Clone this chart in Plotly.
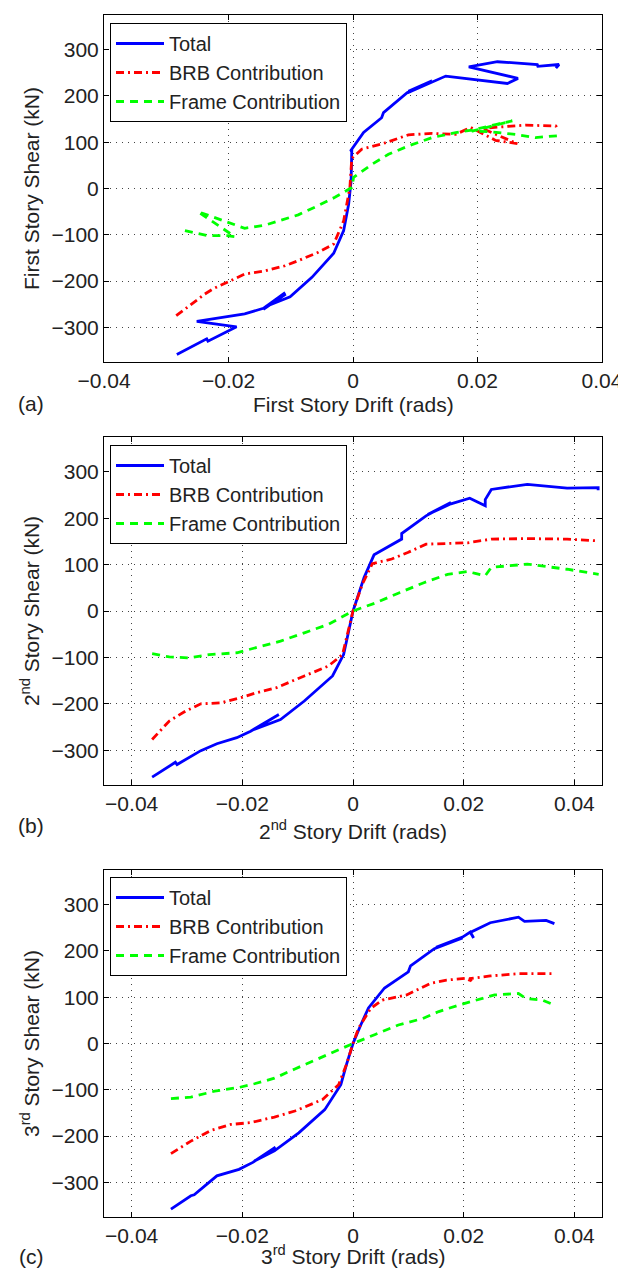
import plotly.graph_objects as go

# ---------------- data ----------------
# Panel (a): first story
A_TOTAL_X = [-0.0283, -0.0235, -0.0233, -0.0187, -0.0251, -0.0174, -0.0144, -0.0109, -0.0144, -0.0108,
             -0.0140, -0.0101, -0.0066, -0.0031, -0.0015, -0.0007, -0.0003, -0.0002, -0.0004, 0.0017,
             0.0046, 0.0049, 0.0087, 0.0127, 0.0089, 0.0126, 0.0088, 0.0149, 0.0248, 0.0265,
             0.0186, 0.0232, 0.0296, 0.0297, 0.0331, 0.0326]
A_TOTAL_Y = [-359, -325, -330, -299, -287, -271, -259, -225, -261, -228,
             -255, -234, -192, -140, -91, -34, 17, 81, 81, 121,
             153, 164, 207, 233, 210, 231, 207, 243, 227, 238,
             263, 274, 268, 264, 268, 260]
A_BRB_X = [-0.0284, -0.0254, -0.0238, -0.0225, -0.0203, -0.0174, -0.0141, -0.0109, -0.0088, -0.0056,
           -0.0031, -0.0015, -0.0005, -0.0002, 0.0014, 0.0046, 0.0089, 0.0127, 0.0165, 0.0189,
           0.0229, 0.0264, 0.0207, 0.0277, 0.0326, 0.0328]
A_BRB_Y = [-275, -243, -228, -217, -203, -185, -178, -167, -156, -138,
           -120, -70, 2, 65, 85, 96, 116, 119, 117, 132,
           104, 97, 130, 137, 135, 127]
A_FRAME_X = [-0.0270, -0.0233, -0.0203, -0.0190, -0.0249, -0.0217, -0.0174, -0.0141, -0.0115, -0.0088,
             -0.0056, -0.0029, -0.0002, 0.0001, 0.0030, 0.0057, 0.0089, 0.0127, 0.0165, 0.0191,
             0.0229, 0.0256, 0.0191, 0.0218, 0.0261, 0.0293, 0.0328]
A_FRAME_Y = [-91, -102, -102, -104, -50, -66, -86, -79, -68, -57,
             -37, -19, 2, 24, 52, 74, 92, 110, 121, 126,
             138, 146, 124, 123, 117, 110, 114]

# Panel (b): second story
B_TOTAL_X = [-0.0363, -0.0321, -0.0318, -0.0275, -0.0246, -0.0210, -0.0185, -0.0134, -0.0180, -0.0131,
             -0.0088, -0.0037, -0.0017, -0.0009, 0.0000, 0.0020, 0.0038, 0.0088, 0.0088, 0.0132,
             0.0177, 0.0135, 0.0177, 0.0211, 0.0239, 0.0239, 0.0250, 0.0315, 0.0387, 0.0443, 0.0443]
B_TOTAL_Y = [-358, -326, -331, -301, -286, -273, -259, -223, -256, -234,
             -194, -140, -94, -50, 0, 72, 121, 155, 167, 205,
             234, 208, 231, 243, 227, 240, 262, 273, 265, 266, 260]
B_BRB_X = [-0.0363, -0.0332, -0.0303, -0.0275, -0.0239, -0.0203, -0.0174, -0.0138, -0.0088, -0.0045,
           -0.0019, -0.0010, 0.0000, 0.0017, 0.0035, 0.0070, 0.0099, 0.0132, 0.0171, 0.0207,
           0.0250, 0.0315, 0.0387, 0.0444]
B_BRB_Y = [-277, -237, -216, -200, -198, -187, -176, -165, -140, -119,
           -94, -50, 0, 58, 102, 112, 126, 144, 145, 147,
           155, 156, 155, 151]
B_FRAME_X = [-0.0363, -0.0332, -0.0296, -0.0260, -0.0210, -0.0174, -0.0131, -0.0088, -0.0045, 0.0000,
             0.0042, 0.0085, 0.0128, 0.0171, 0.0207, 0.0221, 0.0239, 0.0250, 0.0315, 0.0387, 0.0444]
B_FRAME_Y = [-92, -99, -101, -94, -90, -79, -65, -47, -29, 0,
             18, 40, 61, 79, 85, 81, 76, 94, 101, 90, 79]

# Panel (c): third story
C_TOTAL_X = [-0.0329, -0.0293, -0.0287, -0.0264, -0.0246, -0.0206, -0.0181, -0.0140, -0.0178, -0.0142,
             -0.0098, -0.0051, -0.0022, -0.0012, 0.0000, 0.0014, 0.0028, 0.0057, 0.0100, 0.0104,
             0.0147, 0.0198, 0.0150, 0.0198, 0.0212, 0.0218, 0.0212, 0.0248, 0.0299, 0.0310,
             0.0349, 0.0364]
C_TOTAL_Y = [-358, -329, -327, -304, -286, -272, -257, -224, -254, -232,
             -193, -143, -89, -46, 0, 40, 77, 120, 155, 168,
             205, 228, 208, 230, 241, 228, 240, 261, 273, 264,
             266, 259]
C_BRB_X = [-0.0329, -0.0293, -0.0257, -0.0221, -0.0185, -0.0142, -0.0105, -0.0055, -0.0026, -0.0012,
           0.0000, 0.0010, 0.0032, 0.0053, 0.0097, 0.0140, 0.0169, 0.0205, 0.0216, 0.0210,
           0.0248, 0.0299, 0.0364]
C_BRB_Y = [-238, -211, -188, -175, -171, -159, -146, -121, -89, -46,
           0, 33, 76, 94, 105, 130, 137, 141, 133, 140,
           146, 151, 151]
C_FRAME_X = [-0.0329, -0.0293, -0.0250, -0.0206, -0.0178, -0.0142, -0.0105, -0.0062, -0.0026, 0.0000,
             0.0039, 0.0082, 0.0126, 0.0155, 0.0191, 0.0212, 0.0256, 0.0299, 0.0313, 0.0342, 0.0364]
C_FRAME_Y = [-119, -116, -103, -95, -87, -75, -55, -32, -14, 0,
             19, 40, 54, 69, 83, 90, 105, 108, 97, 94, 83]

SERIES_NAMES = ["Total", "BRB Contribution", "Frame Contribution"]
X_TITLES = ["First Story Drift (rads)", "2<sup>nd</sup> Story Drift (rads)", "3<sup>rd</sup> Story Drift (rads)"]
Y_TITLES = ["First Story Shear (kN)", "2<sup>nd</sup> Story Shear (kN)", "3<sup>rd</sup> Story Shear (kN)"]
PANEL_LABELS = ["(a)", "(b)", "(c)"]
X_TICKS = [-0.04, -0.02, 0, 0.02, 0.04]
Y_TICKS = [-300, -200, -100, 0, 100, 200, 300]

# ---------------- layout helpers ----------------
W, H = 626, 1268
ML, MR, MT, MB = 96, 32, 7, 59
PW = W - ML - MR
PH = H - MT - MB


def py2paper(py):
    return (H - MB - py) / PH


def px2paper(px):
    return (px - ML) / PW


panels = [
    dict(x=[A_TOTAL_X, A_BRB_X, A_FRAME_X], y=[A_TOTAL_Y, A_BRB_Y, A_FRAME_Y],
         top=7, bottom=354, xr=[-0.04, 0.04], leg_top=15, lab_y=395, xt_y=396),
    dict(x=[B_TOTAL_X, B_BRB_X, B_FRAME_X], y=[B_TOTAL_Y, B_BRB_Y, B_FRAME_Y],
         top=429, bottom=777, xr=[-0.045, 0.045], leg_top=437, lab_y=817, xt_y=822),
    dict(x=[C_TOTAL_X, C_BRB_X, C_FRAME_X], y=[C_TOTAL_Y, C_BRB_Y, C_FRAME_Y],
         top=862, bottom=1209, xr=[-0.045, 0.045], leg_top=869, lab_y=1248, xt_y=1247),
]

styles = [
    dict(color="#0000FF", width=2.8, dash="solid"),
    dict(color="#FF0000", width=2.8, dash="8px,4px,2px,4px"),
    dict(color="#00FF00", width=2.8, dash="8px,6px"),
]

FONT = "Liberation Sans, Arial, Helvetica, sans-serif"
TXT = "#222222"
FS = 21

fig = go.Figure()
layout = dict(
    width=W, height=H,
    margin=dict(l=ML, r=MR, t=MT, b=MB, autoexpand=False),
    paper_bgcolor="white", plot_bgcolor="white",
    font=dict(family=FONT, size=FS, color=TXT),
    annotations=[],
)

for i, p in enumerate(panels):
    n = "" if i == 0 else str(i + 1)
    legname = "legend" + n
    for k in range(3):
        fig.add_trace(go.Scatter(
            x=p["x"][k], y=p["y"][k], mode="lines", name=SERIES_NAMES[k],
            line=styles[k], xaxis="x" + n, yaxis="y" + n,
            legend=legname, showlegend=True,
        ))
    axis_common = dict(
        showline=True, linecolor="black", linewidth=1, mirror="ticks",
        ticks="inside", ticklen=5, tickcolor="black",
        showgrid=True, gridcolor="#444444", gridwidth=1, griddash="1px,5px",
        zeroline=False, tickfont=dict(size=FS, family=FONT, color=TXT),
        automargin=False,
    )
    layout["xaxis" + n] = dict(
        axis_common, domain=[0, 1], range=p["xr"], tickvals=X_TICKS,
        anchor="y" + n,
    )
    layout["yaxis" + n] = dict(
        axis_common, domain=[py2paper(p["bottom"]), py2paper(p["top"])],
        range=[-375, 375], tickvals=Y_TICKS, anchor="x" + n,
        title=dict(text=Y_TITLES[i], standoff=6, font=dict(size=FS, family=FONT, color=TXT)),
    )
    layout[legname] = dict(
        x=px2paper(102), y=py2paper(p["leg_top"]), xanchor="left", yanchor="top",
        bgcolor="white", bordercolor="black", borderwidth=1,
        font=dict(size=FS - 1, family=FONT, color=TXT),
        tracegroupgap=0, itemwidth=48,
    )
    # x-axis title
    layout["annotations"].append(dict(
        text=X_TITLES[i], xref="paper", yref="paper",
        x=0.5, y=py2paper(p["xt_y"]), xanchor="center", yanchor="middle",
        showarrow=False, font=dict(size=FS, family=FONT, color=TXT),
    ))
    # panel label
    layout["annotations"].append(dict(
        text=PANEL_LABELS[i], xref="paper", yref="paper",
        x=px2paper(23), y=py2paper(p["lab_y"]), xanchor="center", yanchor="middle",
        showarrow=False, font=dict(size=FS, family=FONT, color=TXT),
    ))

fig.update_layout(**layout)
fig.write_html("out.html")
